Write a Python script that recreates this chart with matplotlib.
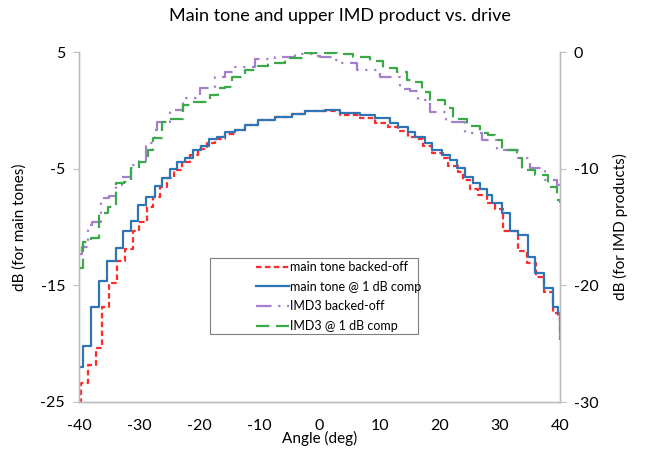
import matplotlib
matplotlib.use('Agg')
import matplotlib.pyplot as plt
from matplotlib.patches import Rectangle

plt.rcParams['font.family'] = ['Lato', 'DejaVu Sans']
plt.rcParams['axes.unicode_minus'] = False

# main tone @ 1 dB comp (left axis), step start angle / level
blue_ang = [-40, -39.3, -38.0, -36.6, -35.3, -33.8, -32.6, -31.4, -30.2, -28.9,
            -27.4, -26.2, -24.9, -23.7, -22.4, -21.0, -19.7, -18.4, -17.0, -15.7,
            -14.1, -12.4, -10.2, -7.4, -4.6, -2.4, 0.9, 3.4, 6.7, 9.2,
            11.7, 13.1, 14.7, 15.9, 17.5, 18.7, 20.4, 21.7, 22.9, 24.2,
            25.5, 26.7, 27.9, 28.7, 30.4, 31.7, 33.0, 34.7, 35.8, 37.3,
            38.8, 39.7, 40]
blue_db = [-22.0, -20.2, -16.9, -14.6, -12.9, -11.8, -10.3, -9.5, -8.1, -7.4,
           -6.5, -5.8, -5.0, -4.4, -4.1, -3.4, -3.1, -2.5, -2.3, -1.9,
           -1.7, -1.3, -0.8, -0.6, -0.3, -0.1, 0.0, -0.2, -0.4, -0.7,
           -1.1, -1.4, -1.9, -2.3, -2.8, -3.4, -3.8, -4.3, -4.9, -5.7,
           -6.2, -6.7, -7.3, -7.9, -8.8, -10.3, -10.7, -12.6, -13.9, -15.2,
           -16.9, -17.4, -19.1]

# main tone backed-off (left axis)
red_ang = [-40, -39.7, -38.5, -37.2, -36.2, -35.0, -33.7, -32.3, -31.1, -30.0,
           -28.7, -27.7, -26.5, -25.4, -24.2, -22.9, -21.5, -20.2, -18.7, -17.4,
           -15.7, -14.1, -12.4, -10.2, -7.4, -4.6, -2.4, 0.9, 3.4, 6.7,
           9.2, 11.4, 13.1, 14.7, 16.2, 17.2, 18.7, 20.5, 21.4, 23.0,
           23.9, 25.0, 26.4, 27.9, 29.2, 30.5, 33.0, 34.5, 36.0, 37.3,
           38.8, 39.7, 40]
red_db = [-25.0, -23.4, -21.8, -20.4, -16.9, -14.8, -12.9, -11.9, -10.3, -9.6,
          -8.3, -7.4, -6.6, -5.8, -5.1, -4.4, -3.8, -3.3, -2.8, -2.5,
          -2.0, -1.7, -1.3, -0.8, -0.6, -0.3, -0.1, -0.1, -0.4, -0.7,
          -1.1, -1.4, -1.8, -2.3, -2.5, -3.1, -3.7, -4.1, -4.8, -5.3,
          -6.0, -6.7, -7.3, -7.9, -8.5, -10.3, -12.1, -13.1, -14.3, -15.6,
          -17.4, -17.8, -19.7]

# IMD3 backed-off (right axis)
purple_ang = [-40, -39.5, -38.5, -37.8, -36.3, -35.0, -33.8, -32.8, -31.4, -30.0,
              -28.9, -27.4, -27.0, -24.9, -22.7, -19.9, -17.4, -15.7, -14.1, -10.7,
              -7.4, -4.1, -1.2, 0.1, 2.6, 3.4, 6.2, 10.1, 13.4, 15.1,
              16.4, 18.4, 21.0, 24.2, 27.0, 29.5, 33.0, 35.0, 37.5, 39.5,
              40]
purple_db = [-17.3, -16.7, -14.8, -14.6, -12.5, -12.3, -11.4, -10.7, -9.7, -9.3,
             -7.8, -6.7, -6.0, -5.0, -3.9, -3.1, -2.1, -1.7, -1.3, -0.6,
             -0.4, -0.2, -0.3, -0.4, -0.7, -0.9, -1.5, -2.1, -3.2, -3.3,
             -4.1, -5.1, -6.0, -6.9, -7.5, -8.4, -9.1, -9.9, -11.0, -11.4,
             -11.4]

# IMD3 @ 1 dB comp (right axis)
green_ang = [-40, -39.3, -38.0, -36.7, -35.2, -33.8, -32.5, -31.4, -30.0, -28.5,
             -27.7, -26.2, -24.9, -22.7, -21.0, -18.2, -16.9, -15.7, -14.6, -12.4,
             -10.2, -8.6, -5.7, -2.4, 2.9, 5.6, 8.4, 10.6, 12.9, 14.6,
             15.4, 17.0, 18.4, 20.9, 22.2, 24.5, 26.7, 28.0, 29.2, 30.4,
             32.8, 33.7, 35.8, 38.0, 39.5, 40]
green_db = [-18.5, -16.3, -15.9, -13.8, -13.3, -11.2, -11.1, -9.9, -9.4, -8.4,
            -7.4, -6.0, -5.7, -4.5, -4.3, -3.7, -3.1, -3.0, -2.1, -1.5,
            -1.2, -0.9, -0.5, -0.1, -0.2, -0.4, -0.8, -1.4, -1.7, -2.4,
            -2.6, -3.4, -4.1, -4.8, -5.7, -6.3, -6.9, -7.1, -7.5, -8.4,
            -9.1, -10.1, -10.5, -11.6, -12.7, -12.9]

grey = '#BFBFBF'

fig = plt.figure(figsize=(6.48, 4.49), dpi=100)
ax = fig.add_axes([79 / 648, 47 / 449, 481 / 648, 350 / 449])
ax2 = ax.twinx()

l1, = ax.plot(red_ang, red_db, drawstyle='steps-post', color='#FF2A2A',
              lw=1.6, ls=(0, (2.5, 1.5)), label='main tone backed-off')
l2, = ax.plot(blue_ang, blue_db, drawstyle='steps-post', color='#2E75B6',
              lw=1.6, label='main tone @ 1 dB comp')
l3, = ax2.plot(purple_ang, purple_db, drawstyle='steps-post', color='#A47FCB',
               lw=1.6, ls=(0, (7, 3, 1, 3, 1, 3)), label='IMD3 backed-off')
l4, = ax2.plot(green_ang, green_db, drawstyle='steps-post', color='#3AAA48',
               lw=1.6, ls=(0, (6, 3)), label='IMD3 @ 1 dB comp')

ax.set_xlim(-40, 40)
ax.set_ylim(-25, 5)
ax2.set_ylim(-30, 0)
ax.set_xticks(range(-40, 41, 10))
ax.set_yticks([-25, -15, -5, 5])
ax2.set_yticks([-30, -20, -10, 0])

for a in (ax, ax2):
    a.spines['top'].set_visible(False)
    for s in ('left', 'right', 'bottom'):
        a.spines[s].set_color(grey)
        a.spines[s].set_linewidth(1.0)
    a.tick_params(colors=grey, labelcolor='black', labelsize=11.5, length=4)
ax.tick_params(axis='x', length=0, pad=12)
ax.tick_params(axis='y', pad=6)
ax2.tick_params(axis='y', pad=6)

ax.set_xlabel('Angle (deg)', fontsize=11, labelpad=-1)
ax.set_ylabel('dB (for main tones)', fontsize=11, labelpad=10)
ax2.set_ylabel('dB (for IMD products)', fontsize=11, rotation=90, labelpad=10)
fig.suptitle('Main tone and upper IMD product vs. drive', fontsize=13,
             x=340 / 648, y=1 - 8 / 449, va='top')

# legend frame is wider than its content, as in the reference
ax.add_patch(Rectangle(((210 - 79) / 481, (402 - 334) / 350), 208 / 481, 76 / 350,
                       transform=ax.transAxes, fill=True, facecolor='white',
                       edgecolor='#7F7F7F', lw=0.8, zorder=5))
leg = ax.legend(handles=[l1, l2, l3, l4], loc='upper left',
                bbox_to_anchor=((256 - 79) / 481, (402 - 261) / 350),
                fontsize=9, frameon=False, handlelength=2.6, handletextpad=0.15,
                borderpad=0.0, labelspacing=0.62, borderaxespad=0)
leg.set_zorder(6)

fig.savefig('out.png', dpi=100)
